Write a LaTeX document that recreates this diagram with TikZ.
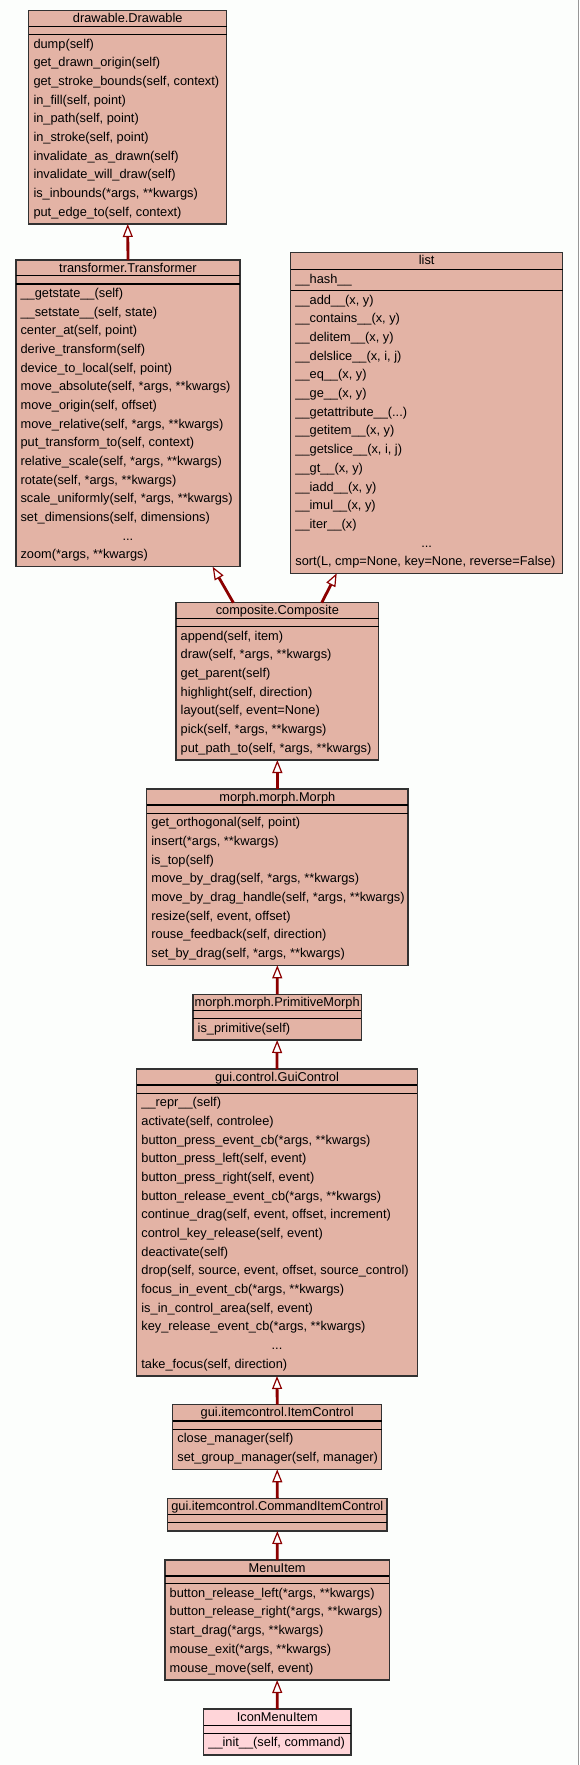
\documentclass[tikz,border=0pt]{standalone}
\usepackage{fontspec}
\setmainfont{Liberation Sans}
\usetikzlibrary{arrows.meta}
\definecolor{boxfill}{RGB}{227,179,165}
\definecolor{iconfill}{RGB}{255,213,217}
\definecolor{edgered}{RGB}{139,0,0}
\definecolor{bgcol}{RGB}{252,254,252}
\definecolor{bordercol}{RGB}{50,50,50}
\definecolor{framegray}{RGB}{150,150,150}
\catcode`\_=12
\newcommand\umlfont{\fontsize{12.8}{15}\selectfont}
\tikzset{
  classbox/.style={draw=bordercol, line width=1.2pt, fill=boxfill, inner sep=0pt, outer sep=0pt, rectangle},
  iconbox/.style={classbox, fill=iconfill},
  sepline/.style={draw=black, line width=1.2pt},
  titletext/.style={anchor=base, inner sep=0pt, font=\umlfont, text=black},
  methtext/.style={anchor=base west, inner sep=0pt, font=\umlfont, text=black},
  dotstext/.style={anchor=base, inner sep=0pt, font=\umlfont, text=black},
  inherit/.style={draw=edgered, line width=2.8pt,
    -{Triangle[length=13pt,width=10pt,fill=white,line width=1.2pt]}},
}
% name, left, right, top, sep1, sep2, bottom, style
\newcommand\umlclass[8]{%
  \node[#8, minimum width={(#3-#2)*1pt}, minimum height={(#7-#4)*1pt}, anchor=north west] (#1) at (#2,#4) {};
  \draw[sepline] (#2,#5) -- (#3,#5);
  \draw[sepline] (#2,#6) -- (#3,#6);
}
% name, x, first baseline, list
\newcommand\umlmethods[4]{%
  \foreach \m [count=\i] in {#4} {\node[methtext] (#1-m\i) at (#2, {#3+(\i-1)*18.67}) {\m};}
}
\begin{document}
\begin{tikzpicture}[x=1pt,y=-1pt]
\useasboundingbox (0,0) rectangle (579,1765);
\fill[bgcol] (0,0) rectangle (579,1765);
\draw[framegray, line width=1pt] (578,0) -- (578,1765);

% drawable.Drawable
\umlclass{drawable}{28.8}{226.7}{10.3}{26.3}{34.7}{224}{classbox}
\node[titletext] (drawable-title) at ({(28.8+226.7)/2}, 22.5) {drawable.Drawable};
\umlmethods{drawable}{33.3}{48.3}{{dump(self)},{get_drawn_origin(self)},{get_stroke_bounds(self, context)},{in_fill(self, point)},{in_path(self, point)},{in_stroke(self, point)},{invalidate_as_drawn(self)},{invalidate_will_draw(self)},{is_inbounds(*args, **kwargs)},{put_edge_to(self, context)}}

% transformer.Transformer
\umlclass{trans}{15.9}{240}{260}{275.7}{284}{566.7}{classbox}
\node[titletext] (trans-title) at ({(15.9+240)/2}, 272) {transformer.Transformer};
\umlmethods{trans}{20.4}{297.6}{{__getstate__(self)},{__setstate__(self, state)},{center_at(self, point)},{derive_transform(self)},{device_to_local(self, point)},{move_absolute(self, *args, **kwargs)},{move_origin(self, offset)},{move_relative(self, *args, **kwargs)},{put_transform_to(self, context)},{relative_scale(self, *args, **kwargs)},{rotate(self, *args, **kwargs)},{scale_uniformly(self, *args, **kwargs)},{set_dimensions(self, dimensions)}}
\node[dotstext] (trans-dots) at ({(15.9+240)/2}, {297.6+13*18.67}) {...};
\node[methtext] (trans-zoom) at (20.4, {297.6+14*18.67}) {zoom(*args, **kwargs)};

% list
\umlclass{list}{290.6}{562.8}{252.7}{269.3}{290.7}{573.3}{classbox}
\node[titletext] (list-title) at ({(290.6+562.8)/2}, 264.7) {list};
\node[methtext] (list-hash) at (295.2, 283) {__hash__};
\umlmethods{list}{295.2}{304.3}{{__add__(x, y)},{__contains__(x, y)},{__delitem__(x, y)},{__delslice__(x, i, j)},{__eq__(x, y)},{__ge__(x, y)},{__getattribute__(.{}.{}.)},{__getitem__(x, y)},{__getslice__(x, i, j)},{__gt__(x, y)},{__iadd__(x, y)},{__imul__(x, y)},{__iter__(x)}}
\node[dotstext] (list-dots) at ({(290.6+562.8)/2}, {304.3+13*18.67}) {...};
\node[methtext] (list-sort) at (295.2, {304.3+14*18.67}) {sort(L, cmp=None, key=None, reverse=False)};

% composite.Composite
\umlclass{comp}{176}{378.7}{602.7}{618.7}{626.7}{760}{classbox}
\node[titletext] (comp-title) at ({(176+378.7)/2}, 614.5) {composite.Composite};
\umlmethods{comp}{180.5}{640.3}{{append(self, item)},{draw(self, *args, **kwargs)},{get_parent(self)},{highlight(self, direction)},{layout(self, event=None)},{pick(self, *args, **kwargs)},{put_path_to(self, *args, **kwargs)}}

% morph.morph.Morph
\umlclass{morph}{146.7}{408}{789}{805}{813.3}{965.3}{classbox}
\node[titletext] (morph-title) at ({(146.7+408)/2}, 801) {morph.morph.Morph};
\umlmethods{morph}{151.2}{826.9}{{get_orthogonal(self, point)},{insert(*args, **kwargs)},{is_top(self)},{move_by_drag(self, *args, **kwargs)},{move_by_drag_handle(self, *args, **kwargs)},{resize(self, event, offset)},{rouse_feedback(self, direction)},{set_by_drag(self, *args, **kwargs)}}

% morph.morph.PrimitiveMorph
\umlclass{prim}{193}{361.3}{994.3}{1010.7}{1018.7}{1040}{classbox}
\node[titletext] (prim-title) at ({(193+361.3)/2}, 1006.3) {morph.morph.PrimitiveMorph};
\umlmethods{prim}{197.5}{1032.3}{{is_primitive(self)}}

% gui.control.GuiControl
\umlclass{gui}{136.7}{417.3}{1069}{1085}{1093.3}{1376}{classbox}
\node[titletext] (gui-title) at ({(136.7+417.3)/2}, 1081) {gui.control.GuiControl};
\umlmethods{gui}{141.2}{1106.9}{{__repr__(self)},{activate(self, controlee)},{button_press_event_cb(*args, **kwargs)},{button_press_left(self, event)},{button_press_right(self, event)},{button_release_event_cb(*args, **kwargs)},{continue_drag(self, event, offset, increment)},{control_key_release(self, event)},{deactivate(self)},{drop(self, source, event, offset, source_control)},{focus_in_event_cb(*args, **kwargs)},{is_in_control_area(self, event)},{key_release_event_cb(*args, **kwargs)}}
\node[dotstext] (gui-dots) at ({(136.7+417.3)/2}, {1106.9+13*18.67}) {...};
\node[methtext] (gui-take) at (141.2, {1106.9+14*18.67}) {take_focus(self, direction)};

% gui.itemcontrol.ItemControl
\umlclass{itemc}{172.7}{381.7}{1404.7}{1421}{1429.3}{1469.3}{classbox}
\node[titletext] (itemc-title) at ({(172.7+381.7)/2}, 1416.7) {gui.itemcontrol.ItemControl};
\umlmethods{itemc}{177.2}{1442.9}{{close_manager(self)},{set_group_manager(self, manager)}}

% gui.itemcontrol.CommandItemControl
\umlclass{cmdc}{167.7}{387}{1498.3}{1514.7}{1522.7}{1531}{classbox}
\node[titletext] (cmdc-title) at ({(167.7+387)/2}, 1510.3) {gui.itemcontrol.CommandItemControl};

% MenuItem
\umlclass{menu}{165}{389.3}{1560}{1576}{1583.7}{1680}{classbox}
\node[titletext] (menu-title) at ({(165+389.3)/2}, 1572) {MenuItem};
\umlmethods{menu}{169.5}{1597.3}{{button_release_left(*args, **kwargs)},{button_release_right(*args, **kwargs)},{start_drag(*args, **kwargs)},{mouse_exit(*args, **kwargs)},{mouse_move(self, event)}}

% IconMenuItem
\umlclass{icon}{203.7}{351}{1709}{1725.3}{1733.3}{1755}{iconbox}
\node[titletext] (icon-title) at ({(203.7+351)/2}, 1721) {IconMenuItem};
\umlmethods{icon}{208.2}{1746.9}{{__init__(self, command)}}

% inheritance edges
\draw[inherit] (trans.north) -- (drawable.south);
\draw[inherit] ([xshift=-44pt]comp.north) -- ([xshift=84.7pt]trans.south);
\draw[inherit] ([xshift=44.4pt]comp.north) -- ([xshift=-90pt]list.south);
\draw[inherit] (morph.north) -- (comp.south);
\draw[inherit] (prim.north) -- (morph.south);
\draw[inherit] (gui.north) -- (prim.south);
\draw[inherit] (itemc.north) -- (gui.south);
\draw[inherit] (cmdc.north) -- (itemc.south);
\draw[inherit] (menu.north) -- (cmdc.south);
\draw[inherit] (icon.north) -- (menu.south);
\end{tikzpicture}
\end{document}
